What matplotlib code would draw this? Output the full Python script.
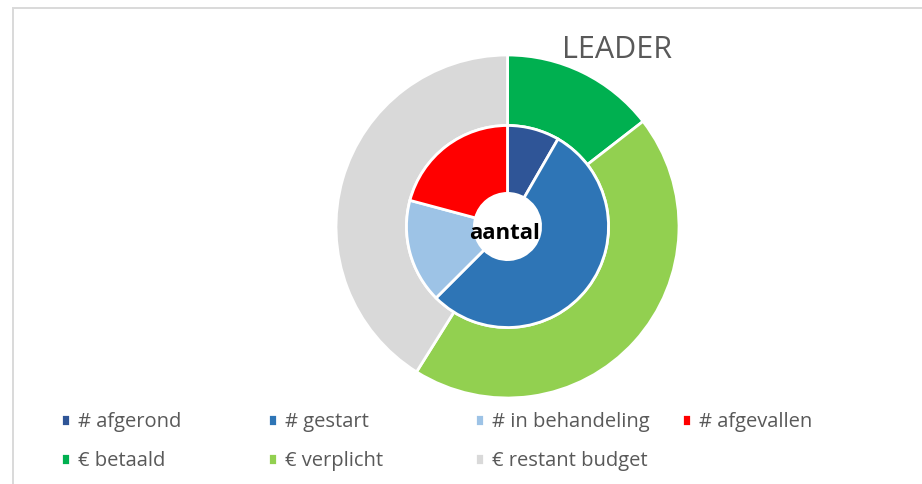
import matplotlib
matplotlib.use("Agg")
import matplotlib.pyplot as plt
from matplotlib.patches import Rectangle

plt.rcParams['font.family'] = ['Open Sans', 'DejaVu Sans']

# inner ring: aantal projecten
aantal_labels = ['# afgerond', '# gestart', '# in behandeling', '# afgevallen']
aantal_values = [2, 13, 4, 5]
aantal_colors = ['#2F5597', '#2E75B6', '#9DC3E6', '#FF0000']

# outer ring: budget in euro
budget_labels = ['€ betaald', '€ verplicht', '€ restant budget']
budget_values = [145000, 444000, 411000]
budget_colors = ['#00B050', '#92D050', '#D9D9D9']

W, H = 922, 484
fig = plt.figure(figsize=(W / 100, H / 100), dpi=100)

# light grey chart frame (cut off at right and bottom)
fig.patches.append(Rectangle((13 / W, -0.1), 1.2, 1 - 8 / H + 0.1, transform=fig.transFigure,
                             fill=False, edgecolor='#D9D9D9', linewidth=1.4))

# donut axes, square in pixels
cx, cy, r = 507.5, 226.5, 171.5
ax = fig.add_axes([(cx - r) / W, (H - cy - r) / H, 2 * r / W, 2 * r / H])

wp = dict(edgecolor='white', linewidth=2)
outer, _ = ax.pie(budget_values, radius=1.0, colors=budget_colors, startangle=90,
                  counterclock=False, wedgeprops=dict(width=0.411, **wp))
inner, _ = ax.pie(aantal_values, radius=0.589, colors=aantal_colors, startangle=90,
                  counterclock=False, wedgeprops=dict(width=0.396, **wp))
ax.set_xlim(-1, 1)
ax.set_ylim(-1, 1)
ax.axis('off')

ax.text(-0.02, -0.04, 'aantal', ha='center', va='center', fontsize=16,
        fontweight='bold', color='black')

fig.text(617 / W, 1 - 50 / H, 'LEADER', ha='center', va='center', fontsize=22,
         color='#595959')

# legend, Excel style: equal column widths, filled row by row
handles = inner + outer
labels = aantal_labels + budget_labels
columns = [[0, 4], [1, 5], [2, 6], [3]]
col_x = [61, 268, 475, 682]
for x, idx in zip(col_x, columns):
    leg = fig.legend([handles[i] for i in idx], [labels[i] for i in idx],
                     loc='upper left', bbox_to_anchor=(x / W, 1 - 412 / H),
                     frameon=False, fontsize=14.5, handlelength=0.45, handleheight=0.6,
                     handletextpad=0.4, labelspacing=0.95, borderpad=0, borderaxespad=0)
    for t in leg.get_texts():
        t.set_color('#595959')

fig.savefig('out.png', dpi=100)
